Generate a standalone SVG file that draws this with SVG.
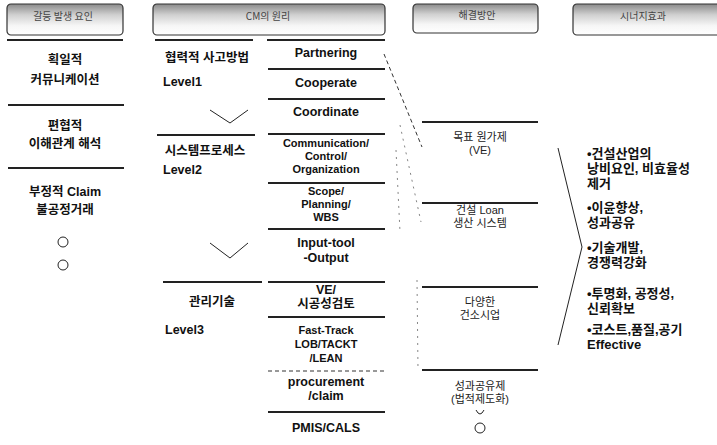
<svg xmlns="http://www.w3.org/2000/svg" width="717" height="445" viewBox="0 0 717 445">
<defs>
<linearGradient id="hg" x1="0" y1="0" x2="0" y2="1">
<stop offset="0" stop-color="#8a8a8a"/>
<stop offset="0.35" stop-color="#d0d0d0"/>
<stop offset="0.7" stop-color="#f6f6f6"/>
<stop offset="1" stop-color="#ffffff"/>
</linearGradient>
<style>
.hdr{fill:url(#hg);stroke:#333;stroke-width:1.2}
.ht{font-family:"Noto Sans CJK KR","Liberation Sans",sans-serif;font-size:10px;fill:#444;text-anchor:middle}
.t{font-family:"Liberation Sans","Noto Sans CJK KR",sans-serif;font-size:12.5px;font-weight:bold;fill:#111;text-anchor:middle}
.ts{font-family:"Liberation Sans","Noto Sans CJK KR",sans-serif;font-size:11px;font-weight:bold;fill:#111;text-anchor:middle}
.tl{font-family:"Liberation Sans","Noto Sans CJK KR",sans-serif;font-size:12.5px;font-weight:bold;fill:#111}
.tc{font-family:"Liberation Sans","Noto Sans CJK KR",sans-serif;font-size:11px;fill:#222;text-anchor:middle}
.tr{font-family:"Liberation Sans","Noto Sans CJK KR",sans-serif;font-size:13px;font-weight:bold;fill:#111}
.sep{stroke:#222;stroke-width:1.8;fill:none}
.thin{stroke:#222;stroke-width:1;fill:none}
.dash{stroke:#333;stroke-width:1;stroke-dasharray:4 3;fill:none}
.ldash{stroke:#666;stroke-width:0.8;stroke-dasharray:2 5;fill:none}
.circ{fill:none;stroke:#222;stroke-width:1}
</style>
</defs>
<rect width="717" height="445" fill="#fff"/>

<g id="header1">
<rect class="hdr" x="7" y="4" width="116" height="31" rx="4"/>
<text class="ht" x="63" y="20">갈등 발생 요인</text>
<line class="sep" x1="7" y1="40" x2="123" y2="40"/>
</g>
<g id="header2">
<rect class="hdr" x="153" y="4" width="232" height="31" rx="4"/>
<text class="ht" x="268" y="20">CM의 원리</text>
<line class="sep" x1="155" y1="40" x2="253" y2="40"/>
<line class="sep" x1="267" y1="40" x2="385" y2="40"/>
</g>
<g id="header3">
<rect class="hdr" x="413" y="4" width="125" height="29" rx="4"/>
<text class="ht" x="477" y="19">해결방안</text>
</g>
<g id="header4">
<rect class="hdr" x="573" y="4" width="150" height="31" rx="4"/>
<text class="ht" x="643" y="20">시너지효과</text>
</g>

<g id="col1">
<text class="t" x="65" y="64">획일적</text>
<text class="t" x="65" y="84">커뮤니케이션</text>
<line class="sep" x1="8" y1="105" x2="124" y2="105"/>
<text class="t" x="65" y="130">편협적</text>
<text class="t" x="65" y="148">이해관계 해석</text>
<line class="sep" x1="8" y1="168" x2="124" y2="168"/>
<text class="t" x="65" y="196">부정적 Claim</text>
<text class="t" x="65" y="214">불공정거래</text>
<circle class="circ" cx="63" cy="242" r="5"/>
<circle class="circ" cx="63" cy="265" r="5"/>
</g>

<g id="col2-levels">
<text class="t" x="207" y="62">협력적 사고방법</text>
<text class="tl" x="163" y="86">Level1</text>
<polyline class="thin" points="210,110 230,123 248,110"/>
<line class="sep" x1="157" y1="135" x2="255" y2="135"/>
<text class="t" x="205" y="155">시스템프로세스</text>
<text class="tl" x="163" y="174">Level2</text>
<polyline class="thin" points="210,243 230,258 248,243"/>
<line class="sep" x1="163" y1="282" x2="262" y2="282"/>
<text class="t" x="212" y="306">관리기술</text>
<text class="tl" x="165" y="334">Level3</text>
</g>

<g id="col2-items">
<text class="t" x="326" y="57">Partnering</text>
<line class="sep" x1="268" y1="69" x2="385" y2="69"/>
<text class="t" x="326" y="87">Cooperate</text>
<line class="sep" x1="268" y1="99" x2="385" y2="99"/>
<text class="t" x="326" y="116">Coordinate</text>
<line class="sep" x1="268" y1="134" x2="385" y2="134"/>
<text class="ts" x="326" y="147">Communication/</text>
<text class="ts" x="326" y="160">Control/</text>
<text class="ts" x="326" y="173">Organization</text>
<line class="sep" x1="268" y1="183" x2="385" y2="183"/>
<text class="ts" x="326" y="195">Scope/</text>
<text class="ts" x="326" y="208">Planning/</text>
<text class="ts" x="326" y="221">WBS</text>
<line class="sep" x1="268" y1="229" x2="385" y2="229"/>
<text class="t" x="326" y="247">Input-tool</text>
<text class="t" x="326" y="262">-Output</text>
<line class="sep" x1="268" y1="282" x2="385" y2="282"/>
<text class="t" x="326" y="294">VE/</text>
<text class="t" x="326" y="308">시공성검토</text>
<line class="sep" x1="268" y1="317" x2="385" y2="317"/>
<text class="ts" x="326" y="334">Fast-Track</text>
<text class="ts" x="326" y="348">LOB/TACKT</text>
<text class="ts" x="326" y="362">/LEAN</text>
<line class="dash" x1="268" y1="371" x2="385" y2="371"/>
<text class="t" x="326" y="386">procurement</text>
<text class="t" x="326" y="400">/claim</text>
<line class="sep" x1="268" y1="412" x2="385" y2="412"/>
<text class="t" x="326" y="432">PMIS/CALS</text>
</g>

<g id="col3">
<line class="sep" x1="422" y1="122" x2="538" y2="122"/>
<text class="tc" x="480" y="141">목표 원가제</text>
<text class="tc" x="480" y="154">(VE)</text>
<line class="sep" x1="422" y1="203" x2="538" y2="203"/>
<text class="tc" x="480" y="214">건설 Loan</text>
<text class="tc" x="480" y="227">생산 시스템</text>
<line class="sep" x1="422" y1="287" x2="538" y2="287"/>
<text class="tc" x="480" y="306">다양한</text>
<text class="tc" x="480" y="319">건소시업</text>
<line class="sep" x1="422" y1="370" x2="538" y2="370"/>
<text class="tc" x="480" y="390">성과공유제</text>
<text class="tc" x="480" y="403">(법적제도화)</text>
<path class="thin" d="M476,410 Q480,418 484,410"/>
<circle class="circ" cx="480" cy="428" r="5"/>
</g>

<g id="col4">
<text class="tr" x="587" y="158">•건설산업의</text>
<text class="tr" x="587" y="173">낭비요인, 비효율성</text>
<text class="tr" x="587" y="188">제거</text>
<text class="tr" x="587" y="212">•이윤향상,</text>
<text class="tr" x="587" y="227">성과공유</text>
<text class="tr" x="587" y="252">•기술개발,</text>
<text class="tr" x="587" y="267">경쟁력강화</text>
<text class="tr" x="587" y="298">•투명화, 공정성,</text>
<text class="tr" x="587" y="313">신뢰확보</text>
<text class="tr" x="587" y="334">•코스트,품질,공기</text>
<text class="tr" x="587" y="349">Effective</text>
</g>

<g id="connectors">
<path class="dash" d="M384,54 L422,147"/>
<path class="ldash" d="M400,125 L421,222"/>
<path class="ldash" d="M396,150 L400,232"/>
<path class="ldash" d="M417,280 L418,370"/>
<polyline class="thin" points="558,148 582,247 558,345"/>
</g>
</svg>
